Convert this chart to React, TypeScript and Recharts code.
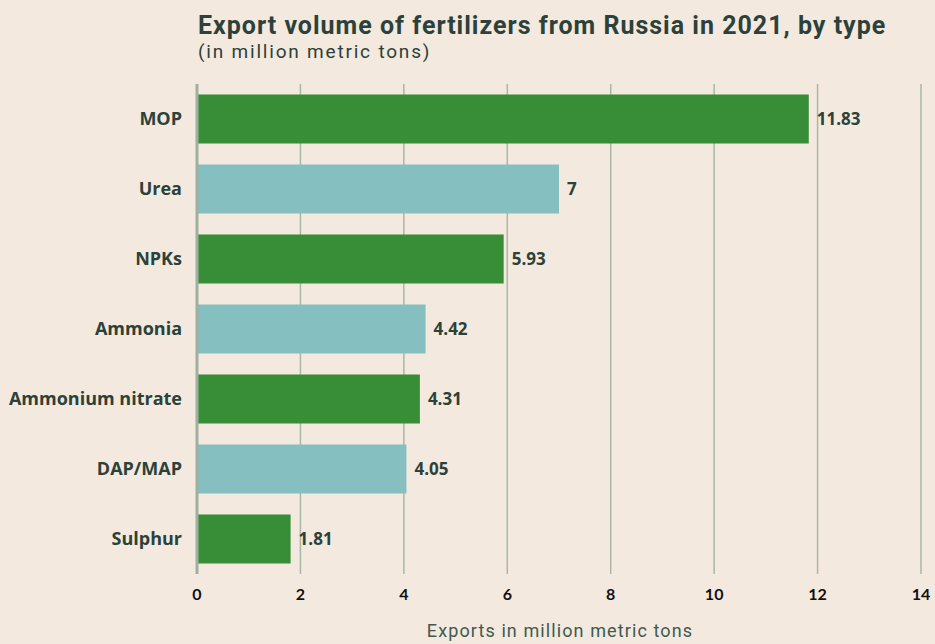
import React from "react";
import { BarChart, Bar, XAxis, YAxis, CartesianGrid, Cell, LabelList } from "recharts";

const categories = ["MOP", "Urea", "NPKs", "Ammonia", "Ammonium nitrate", "DAP/MAP", "Sulphur"];
const values = [11.83, 7, 5.93, 4.42, 4.31, 4.05, 1.81];
const xTicks = [0, 2, 4, 6, 8, 10, 12, 14];
const barColors = ["#388e36", "#85bfbf"];

const data = categories.map((name, i) => ({ name, value: values[i] }));

const BG = "#f3e9de";
const DARK = "#2b4139";

export default function App() {
  return (
    <div style={{ position: "absolute", left: 0, top: 0, width: 935, height: 644, background: BG }}>
      <div style={{ position: "absolute", left: 0, top: 0 }}>
        <BarChart
          width={935}
          height={644}
          data={data}
          layout="vertical"
          margin={{ top: 84, right: 14, bottom: 0, left: 0 }}
          barCategoryGap="15%"
        >
          <CartesianGrid horizontal={false} stroke="#a9b8a6" strokeWidth={1.5} />
          <XAxis
            type="number"
            domain={[0, 14]}
            ticks={xTicks}
            axisLine={false}
            tickLine={false}
            tickSize={0}
            tickMargin={15}
            tick={{ fill: "#111", fontSize: 16, fontWeight: 700, fontFamily: "Lato, sans-serif" }}
            height={70}
          />
          <YAxis
            type="category"
            dataKey="name"
            width={197}
            axisLine={{ stroke: "#9fb0a0", strokeWidth: 3 }}
            tickLine={false}
            tickSize={0}
            tickMargin={15}
            tick={{ fill: DARK, fontSize: 18, fontWeight: 700, fontFamily: "'Open Sans', sans-serif" }}
          />
          <Bar dataKey="value" isAnimationActive={false}>
            {data.map((d, i) => (
              <Cell key={d.name} fill={barColors[i % 2]} />
            ))}
            <LabelList
              dataKey="value"
              position="right"
              offset={8}
              style={{ fill: DARK, fontSize: 17, fontWeight: 700, fontFamily: "'Open Sans', sans-serif" }}
            />
          </Bar>
        </BarChart>
      </div>
      <svg width={935} height={644} style={{ position: "absolute", left: 0, top: 0, pointerEvents: "none" }}>
        <text x={198} y={34} fill={DARK} fontSize={25} fontWeight={700} letterSpacing={1} fontFamily="Roboto, sans-serif">
          Export volume of fertilizers from Russia in 2021, by type
        </text>
        <text x={198} y={58} fill={DARK} fontSize={19} letterSpacing={1.8} fontFamily="Roboto, sans-serif">
          (in million metric tons)
        </text>
        <text x={560} y={637} fill="#3d5a50" fontSize={18} letterSpacing={1.1} textAnchor="middle" fontFamily="Roboto, sans-serif">
          Exports in million metric tons
        </text>
      </svg>
    </div>
  );
}
